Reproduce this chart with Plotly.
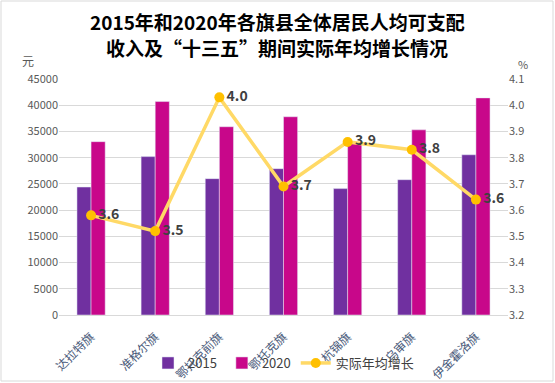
import plotly.graph_objects as go

categories = ["达拉特旗", "准格尔旗", "鄂托克前旗", "鄂托克旗", "杭锦旗", "乌审旗", "伊金霍洛旗"]
income_2015 = [24400, 30200, 26000, 27900, 24100, 25800, 30550]
income_2020 = [33050, 40700, 35900, 37800, 32800, 35300, 41400]
growth = [3.58, 3.52, 4.03, 3.69, 3.86, 3.83, 3.64]
growth_labels = ["3.6", "3.5", "4.0", "3.7", "3.9", "3.8", "3.6"]

left_ticks = list(range(0, 45001, 5000))
right_ticks = [3.2, 3.3, 3.4, 3.5, 3.6, 3.7, 3.8, 3.9, 4.0, 4.1]

FONT = "Noto Sans CJK SC"
W, H = 555, 383
ML, MR, MT, MB = 59, 47, 79, 68
PW, PH = W - ML - MR, H - MT - MB

fig = go.Figure()
fig.add_trace(go.Bar(x=categories, y=income_2015, name="2015", marker_color="#7030A0", yaxis="y"))
fig.add_trace(go.Bar(x=categories, y=income_2020, name="2020", marker_color="#C8078A", yaxis="y"))
fig.add_trace(go.Scatter(
    x=categories, y=growth, name="实际年均增长", yaxis="y2",
    mode="lines+markers+text",
    line=dict(color="#FFD966", width=3.5),
    marker=dict(color="#FFC000", size=10),
    text=growth_labels, textposition="middle right",
    textfont=dict(family=FONT, size=14, color="#404040", weight="bold"),
    cliponaxis=False,
))

def px_x(p):
    return (p - ML) / PW

def px_y(p):
    return (H - MB - p) / PH

fig.update_layout(
    width=W, height=H,
    margin=dict(l=ML, r=MR, t=MT, b=MB, autoexpand=False),
    paper_bgcolor="white", plot_bgcolor="white",
    font=dict(family=FONT, color="#595959"),
    barmode="group", bargap=0.56, bargroupgap=0,
    xaxis=dict(
        tickangle=-45, tickfont=dict(size=12, color="#4a5a7a", family=FONT),
        showline=True, linecolor="#D9D9D9", linewidth=1, ticks="",
        ticklabelstandoff=9, automargin=False,
    ),
    yaxis=dict(
        range=[0, 45000], tickvals=left_ticks, tickformat="d", showgrid=True, gridcolor="#D9D9D9",
        zeroline=False, tickfont=dict(size=11, color="#595959", family=FONT),
        ticks="", ticklen=0, automargin=False,
    ),
    yaxis2=dict(
        range=[3.2, 4.1], tickvals=right_ticks, overlaying="y", side="right",
        showgrid=False, zeroline=False, tickformat=".1f", automargin=False,
        tickfont=dict(size=11, color="#595959", family=FONT),
    ),
    legend=dict(
        orientation="h", x=0.5, xanchor="center", y=px_y(363), yanchor="middle",
        font=dict(size=13, color="#404040", family=FONT), bgcolor="rgba(0,0,0,0)",
        itemwidth=30, tracegroupgap=0,
    ),
    showlegend=True,
    annotations=[
        dict(text="2015年和2020年各旗县全体居民人均可支配", xref="paper", yref="paper",
             x=px_x(277), y=px_y(21), showarrow=False, xanchor="center", yanchor="middle",
             font=dict(size=19, color="#000000", family=FONT, weight="bold")),
        dict(text="收入及“十三五”期间实际年均增长情况", xref="paper", yref="paper",
             x=px_x(277), y=px_y(48), showarrow=False, xanchor="center", yanchor="middle",
             font=dict(size=19, color="#000000", family=FONT, weight="bold")),
        dict(text="元", xref="paper", yref="paper", x=px_x(28), y=px_y(70), showarrow=False,
             xanchor="center", yanchor="bottom", borderpad=0,
             font=dict(size=12, color="#595959", family=FONT)),
        dict(text="%", xref="paper", yref="paper", x=px_x(523), y=px_y(73), showarrow=False,
             xanchor="center", yanchor="bottom", borderpad=0,
             font=dict(size=11, color="#595959", family=FONT)),
    ],
    shapes=[
        dict(type="rect", xref="paper", yref="paper", x0=px_x(1), x1=px_x(553), y0=px_y(381), y1=px_y(1),
             line=dict(color="#D9D9D9", width=1), layer="below"),
    ],
)

fig.write_html("out.html", config={"displayModeBar": False},
               post_script="document.body.style.margin='0px';document.body.style.overflow='hidden';")
